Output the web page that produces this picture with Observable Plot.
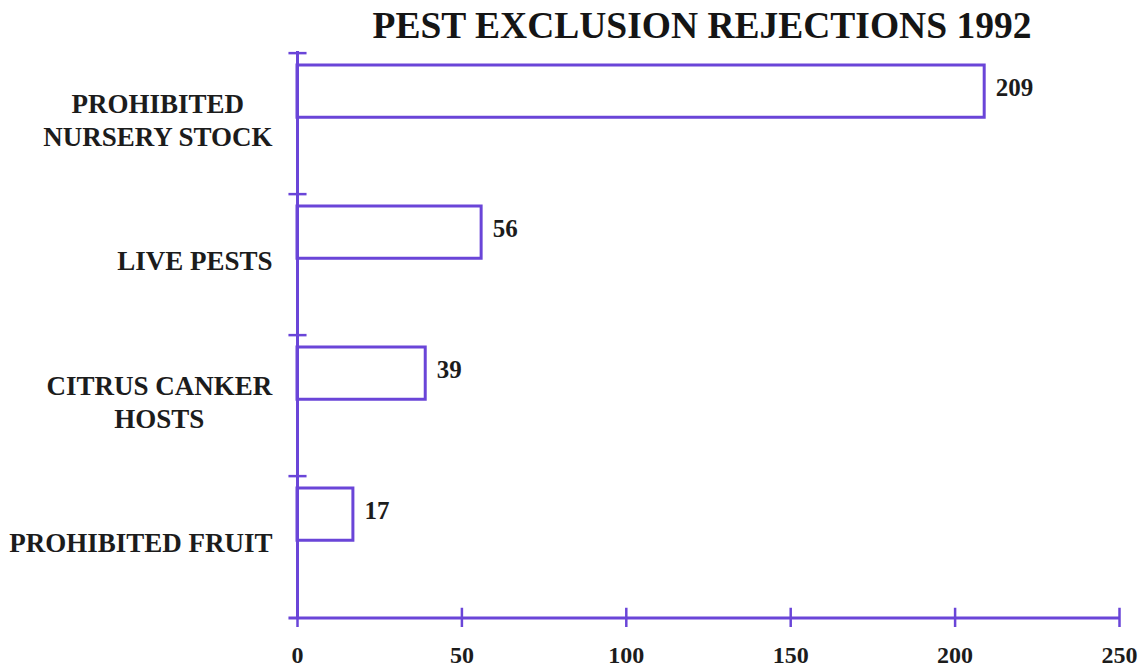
<!DOCTYPE html>
<html><head><meta charset="utf-8">
<script src="https://cdn.jsdelivr.net/npm/d3@7"></script>
<script src="https://cdn.jsdelivr.net/npm/@observablehq/plot@0.6"></script>
<style>
body{margin:0;background:#fff;}
#title{height:48px;line-height:51px;font-family:"Liberation Serif",serif;font-weight:bold;font-size:37.5px;color:#151515;text-align:center;padding-left:256px;width:892px;white-space:nowrap;}
#chart{height:622px;line-height:0;}
</style></head><body>
<div id="title">PEST EXCLUSION REJECTIONS 1992</div>
<div id="chart"></div>
<script>
const categories = ["PROHIBITED\nNURSERY STOCK", "LIVE PESTS", "CITRUS CANKER\nHOSTS", "PROHIBITED FRUIT"];
const values = [209, 56, 39, 17];
const xTicks = [0, 50, 100, 150, 200, 250];
const data = categories.map((c, i) => ({category: c, value: values[i]}));

const W = 1148, H = 622, mt = 3, mb = 52, ml = 297, mr = 29;
const bw = (H - mt - mb) / categories.length;
const purple = "#6a45d8", ink = "#1c1c1c";
const last = categories[categories.length - 1];

const plot = Plot.plot({
  width: W, height: H, marginTop: mt, marginBottom: mb, marginLeft: ml, marginRight: mr,
  style: {fontFamily: '"Liberation Serif", serif', fontWeight: "bold", color: ink, background: "#fff", overflow: "visible", display: "block"},
  x: {domain: [0, 250], axis: null, label: null},
  y: {domain: categories, padding: 0, axis: null, label: null},
  marks: [
    Plot.barX(data, {x: "value", y: "category", fill: "white", stroke: purple, strokeWidth: 3, insetTop: 12, insetBottom: bw - 65}),
    Plot.ruleX([0], {stroke: purple, strokeWidth: 3}),
    Plot.ruleY(categories, {y: d => d, x1: -2.6, x2: 2.9, dy: -bw / 2, stroke: purple, strokeWidth: 2.5}),
    Plot.ruleY([last], {y: d => d, x1: -2.6, x2: 250, dy: bw / 2, stroke: purple, strokeWidth: 3}),
    Plot.tickX(xTicks, {x: d => d, y: () => last, insetTop: bw - 10, insetBottom: -10, stroke: purple, strokeWidth: 2.5}),
    Plot.axisX({ticks: xTicks, tickSize: 0, tickPadding: 27, fontSize: 24, fill: ink, label: null, tickFormat: d => String(d)}),
    Plot.text(data, {x: "value", y: "category", text: d => String(d.value), textAnchor: "start", dx: 11, dy: -36, fontSize: 25, fill: ink}),
    Plot.text(categories, {y: d => d, text: d => d, frameAnchor: "left", textAnchor: "end", dx: -25, dy: -5, fontSize: 27, lineHeight: 1.2, fill: ink})
  ]
});
document.getElementById("chart").appendChild(plot);
const flat = categories.map(c => c.replace(/\n/g, ""));
plot.querySelectorAll("text").forEach(t => {
  if (!flat.includes(t.textContent)) return;
  const bb = t.getBBox();
  t.setAttribute("text-anchor", "middle");
  t.querySelectorAll("tspan").forEach(s => s.setAttribute("text-anchor", "middle"));
  t.setAttribute("transform", (t.getAttribute("transform") || "") + ` translate(${-bb.width / 2},0)`);
});
</script>
</body></html>
